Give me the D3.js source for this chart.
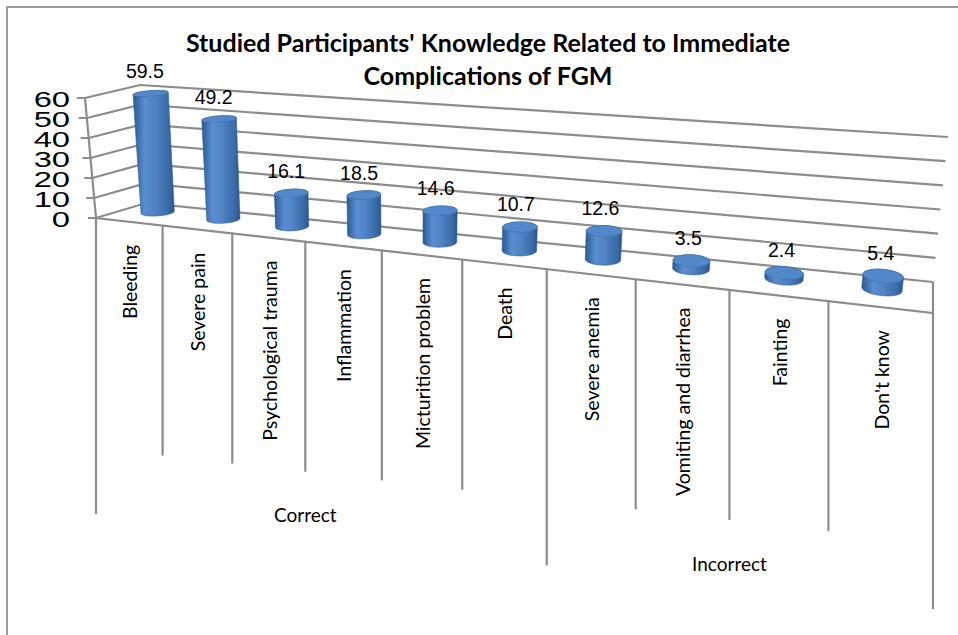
<!DOCTYPE html>
<html>
<head>
<meta charset="utf-8">
<script src="https://cdn.jsdelivr.net/npm/d3@7"></script>
<style>
  body { margin: 0; background: #fff; }
  svg { display: block; }
</style>
</head>
<body>
<div id="chart"></div>
<script>
var categories = ["Bleeding", "Severe pain", "Psychological trauma", "Inflammation", "Micturition problem",
    "Death", "Severe anemia", "Vomiting and diarrhea", "Fainting", "Don't know"];
var values = [59.5, 49.2, 16.1, 18.5, 14.6, 10.7, 12.6, 3.5, 2.4, 5.4];
var groupNames = ["Correct", "Incorrect"];
var groupSizes = [6, 4];
var valueTicks = [0, 10, 20, 30, 40, 50, 60];
var titleLines = ["Studied Participants' Knowledge Related to Immediate", "Complications of FGM"];

var width = 958, height = 635;

// corners of the 3d box as drawn (front/back floor corners, and the "up" vector for the full 0-60 range)
var FL = [96, 218], FR = [933, 313], BL = [146, 203], BR = [933, 282];
var FLup = [-11, -120], FRup = [15, -150], BLup = [-6, -118], BRup = [15, -145];
var depthOfBars = 0.6, rX = 0.02, rD = 0.22;
var gridColor = "#8c8c8c";

var x = d3.scaleBand().domain(categories).range([0, 1]);
var v = d3.scaleLinear().domain([0, 60]).range([0, 1]);
// 1d perspective, things get wider to the right
var foreshort = 0.778;
var persp = function(t) { return foreshort * t / (1 - (1 - foreshort) * t); };

function lerp(a, b, k) { return [a[0] + (b[0] - a[0]) * k, a[1] + (b[1] - a[1]) * k]; }

function proj(t, d, val) {
    var s = persp(t);
    var base = lerp(lerp(FL, FR, s), lerp(BL, BR, s), d);
    var up = lerp(lerp(FLup, FRup, s), lerp(BLup, BRup, s), d);
    var k = v(val);
    return [base[0] + up[0] * k, base[1] + up[1] * k];
}

var svg = d3.select("#chart").append("svg")
    .attr("width", width)
    .attr("height", height);

var defs = svg.append("defs");
var grad = defs.append("linearGradient").attr("id", "cyl")
    .attr("x1", "0%").attr("x2", "100%").attr("y1", "0%").attr("y2", "0%");
[["0%", "#2c5a92"], ["28%", "#5a8ed0"], ["55%", "#4e82c3"], ["85%", "#3b6ba8"], ["100%", "#2b568c"]]
    .forEach(function(st) { grad.append("stop").attr("offset", st[0]).attr("stop-color", st[1]); });

// outer frame (only top and left show)
svg.append("path")
    .attr("d", "M7,635 L7,7 L958,7")
    .attr("fill", "none")
    .attr("stroke", "#9a9a9a")
    .attr("stroke-width", 2);

var line = d3.line();
var grid = svg.append("g")
    .attr("fill", "none")
    .attr("stroke", gridColor)
    .attr("stroke-width", 2.2);

valueTicks.forEach(function(tk) {
    var f = proj(0, 0, tk);
    grid.append("path").attr("d", line([[f[0] - 8, f[1]], f, proj(0, 1, tk), proj(1, 1, tk)]));
});
// left axis edge, floor front and right edges
grid.append("path").attr("d", line([proj(0, 0, 60), proj(0, 0, 0), proj(1, 0, 0), proj(1, 1, 0)]));

// category dividers hanging below the floor
var boundaries = d3.range(categories.length + 1);
var groupEdges = [0];
groupSizes.forEach(function(n) { groupEdges.push(groupEdges[groupEdges.length - 1] + n); });

grid.selectAll("line.div")
    .data(boundaries)
    .join("line")
    .attr("class", "div")
    .each(function(i) {
        var p = proj(i / categories.length, 0, 0);
        var len = groupEdges.indexOf(i) >= 0 ? 296 : 230;
        d3.select(this).attr("x1", p[0]).attr("x2", p[0]).attr("y1", p[1]).attr("y2", p[1] + len);
    });

// cylinders
var angles = d3.range(0, 2 * Math.PI, Math.PI / 36);
var bars = svg.append("g");
categories.forEach(function(c, i) {
    var tc = x(c) + x.bandwidth() / 2;
    var ring = function(val) {
        return angles.map(function(a) {
            return proj(tc + rX * Math.cos(a), depthOfBars + rD * Math.sin(a), val);
        });
    };
    var bottom = ring(0), top = ring(values[i]);
    var hull = d3.polygonHull(bottom.concat(top));
    bars.append("path")
        .attr("d", "M" + hull.join("L") + "Z")
        .attr("fill", "url(#cyl)")
        .attr("stroke", "#2f5d95")
        .attr("stroke-width", 0.6);
    bars.append("path")
        .attr("d", "M" + top.join("L") + "Z")
        .attr("fill", "#5287c9")
        .attr("stroke", "#3f70ad")
        .attr("stroke-width", 0.6);

    var s = persp(tc);
    var topC = proj(tc, depthOfBars, values[i]);
    var minY = d3.min(top, function(p) { return p[1]; });
    svg.append("text")
        .attr("x", topC[0] - 6 + 4 * s)
        .attr("y", minY - 9 - 3 * (1 - s))
        .attr("text-anchor", "middle")
        .attr("font-family", "Liberation Sans, Arial, sans-serif")
        .attr("font-size", 19.5)
        .attr("fill", "#000")
        .text(values[i]);
});

// category labels, rotated
categories.forEach(function(c, i) {
    var a = proj(i / categories.length, 0, 0), b = proj((i + 1) / categories.length, 0, 0);
    var cx = (a[0] + b[0]) / 2 + 1, cy = (a[1] + b[1]) / 2 + 23;
    svg.append("text")
        .attr("transform", "translate(" + cx + "," + cy + ") rotate(-90)")
        .attr("text-anchor", "end")
        .attr("dy", "0.35em")
        .attr("font-family", "Lato, sans-serif")
        .attr("font-size", 19.5)
        .attr("fill", "#000")
        .text(c);
});

// group labels
groupNames.forEach(function(g, j) {
    var tm = (groupEdges[j] + groupEdges[j + 1]) / 2 / categories.length;
    var p = proj(tm, 0, 0);
    svg.append("text")
        .attr("x", p[0])
        .attr("y", p[1] + 274)
        .attr("dy", "0.35em")
        .attr("text-anchor", "middle")
        .attr("font-family", "Lato, sans-serif")
        .attr("font-size", 19)
        .attr("fill", "#000")
        .text(g);
});

// value axis labels (wide digits like the original)
valueTicks.forEach(function(tk) {
    var p = proj(0, 0, tk);
    svg.append("text")
        .attr("transform", "translate(70," + (p[1] + 1) + ") scale(1.52,1)")
        .attr("text-anchor", "end")
        .attr("dy", "0.35em")
        .attr("font-family", "Liberation Sans, Arial, sans-serif")
        .attr("font-size", 21.5)
        .attr("fill", "#000")
        .text(tk);
});

svg.append("g").selectAll("text")
    .data(titleLines)
    .join("text")
    .attr("x", 488)
    .attr("y", function(d, i) { return 52 + i * 33; })
    .attr("text-anchor", "middle")
    .attr("font-family", "Lato, sans-serif")
    .attr("font-weight", "bold")
    .attr("font-size", 25)
    .attr("fill", "#000")
    .text(function(d) { return d; });
</script>
</body>
</html>
